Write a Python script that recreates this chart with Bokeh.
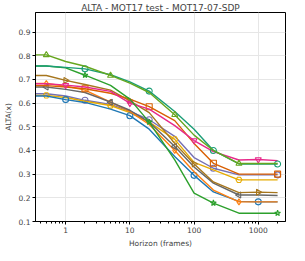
import numpy as np
from bokeh.plotting import figure
from bokeh.embed import file_html
from bokeh.resources import INLINE
from bokeh.models import FixedTicker, Range1d

TITLE = "ALTA - MOT17 test - MOT17-07-SDP"
X_LABEL = "Horizon (frames)"
Y_LABEL = "ALTA(x)"

HORIZONS = [0.3, 0.5, 1, 2, 5, 10, 20, 50, 100, 200, 500, 1000, 2000]
Y_TICKS = [0.1, 0.2, 0.3, 0.4, 0.5, 0.6, 0.7, 0.8, 0.9]
X_TICKS = [1, 10, 100, 1000]

light_green = [0.804, 0.804, 0.776, 0.756, 0.717, 0.685, 0.645, 0.551, 0.465, 0.400, 0.345, 0.345, 0.345]
green_star = [0.757, 0.757, 0.749, 0.718, 0.675, 0.617, 0.520, 0.360, 0.220, 0.178, 0.135, 0.135, 0.135]
teal = [0.757, 0.757, 0.751, 0.745, 0.720, 0.690, 0.651, 0.565, 0.490, 0.400, 0.343, 0.343, 0.343]
pink = [0.682, 0.682, 0.676, 0.668, 0.650, 0.600, 0.575, 0.505, 0.442, 0.395, 0.360, 0.362, 0.357]
dark_orange = [0.674, 0.674, 0.668, 0.661, 0.642, 0.617, 0.585, 0.526, 0.430, 0.346, 0.300, 0.300, 0.300]
brown = [0.717, 0.717, 0.696, 0.679, 0.655, 0.610, 0.560, 0.430, 0.343, 0.267, 0.222, 0.224, 0.222]
gray = [0.668, 0.668, 0.658, 0.645, 0.604, 0.570, 0.520, 0.417, 0.330, 0.262, 0.212, 0.212, 0.210]
orange = [0.683, 0.683, 0.672, 0.655, 0.604, 0.565, 0.510, 0.400, 0.310, 0.233, 0.183, 0.183, 0.183]
blue = [0.630, 0.630, 0.615, 0.603, 0.575, 0.547, 0.490, 0.375, 0.295, 0.225, 0.185, 0.183, 0.183]
yellow = [0.633, 0.633, 0.624, 0.608, 0.590, 0.560, 0.520, 0.447, 0.350, 0.318, 0.276, 0.276, 0.276]
purple = [0.640, 0.640, 0.630, 0.612, 0.595, 0.565, 0.530, 0.460, 0.370, 0.325, 0.297, 0.297, 0.297]

# (values, color, marker, angle, marker indices)
SERIES = [
    (purple, "#7570b3", "circle", 0.0, [3, 6, 9, 12]),
    (yellow, "#e6ab02", "hex", 0.0, [1, 4, 7, 10]),
    (blue, "#1f77b4", "circle", 0.0, [2, 5, 8, 11]),
    (orange, "#ff7f0e", "diamond", 0.0, [1, 4, 7, 10]),
    (gray, "#666666", "triangle", np.pi / 2, [1, 4, 7, 10]),
    (brown, "#a6761d", "triangle", -np.pi / 2, [2, 5, 8, 11]),
    (dark_orange, "#d95f02", "square", 0.0, [3, 6, 9, 12]),
    (pink, "#e7298a", "inverted_triangle", 0.0, [2, 5, 8, 11]),
    (green_star, "#2ca02c", "star", 0.0, [3, 6, 9, 12]),
    (teal, "#1b9e77", "circle", 0.0, [3, 6, 9, 12]),
    (light_green, "#66a61e", "triangle", 0.0, [1, 4, 7, 10]),
]

p = figure(width=297, height=253, x_axis_type="log", output_backend="svg",
           toolbar_location=None, x_range=Range1d(0.339, 2655), y_range=Range1d(0.1, 0.983),
           min_border_left=28, min_border_right=12, min_border_top=9, min_border_bottom=32)

p.title.text = TITLE
p.title.align = "center"
p.title.text_font = "DejaVu Sans"
p.title.text_font_size = "9px"
p.title.text_font_style = "normal"
p.title.standoff = 0
p.title.offset = 0

for vals, col, mk, ang, idx in SERIES:
    p.line(HORIZONS, vals, line_color=col, line_width=1.4)
    p.scatter([HORIZONS[i] for i in idx], [vals[i] for i in idx], marker=mk, angle=ang,
              size=6, line_color=col, line_width=1.1, fill_color=None)

p.outline_line_color = "black"
p.outline_line_width = 1

p.xaxis.ticker = FixedTicker(ticks=X_TICKS, minor_ticks=[x * m for x in [0.1, 1, 10, 100, 1000] for m in range(2, 10)])
p.yaxis.ticker = FixedTicker(ticks=Y_TICKS, minor_ticks=[])

for ax in [p.xaxis[0], p.yaxis[0]]:
    ax.major_label_text_font = "DejaVu Sans"
    ax.major_label_text_font_size = "7.5px"
    ax.axis_label_text_font = "DejaVu Sans"
    ax.axis_label_text_font_size = "7.5px"
    ax.axis_label_text_font_style = "normal"
    ax.axis_line_color = "black"
    ax.major_tick_line_color = "black"
    ax.minor_tick_line_color = "black"
    ax.major_tick_out = 3
    ax.major_tick_in = 0
    ax.minor_tick_out = 2
    ax.minor_tick_in = 0
    ax.major_label_standoff = 2
    ax.axis_label_standoff = 3

p.xaxis.axis_label = X_LABEL
p.yaxis.axis_label = Y_LABEL
p.xaxis.major_label_overrides = {1: "1", 10: "10", 100: "100", 1000: "1000"}

p.xgrid.ticker = FixedTicker(ticks=X_TICKS)
p.ygrid.ticker = FixedTicker(ticks=Y_TICKS)
p.grid.grid_line_color = "#e6e6e6"
p.grid.grid_line_width = 1

open("out.html", "w").write(file_html(p, INLINE))
